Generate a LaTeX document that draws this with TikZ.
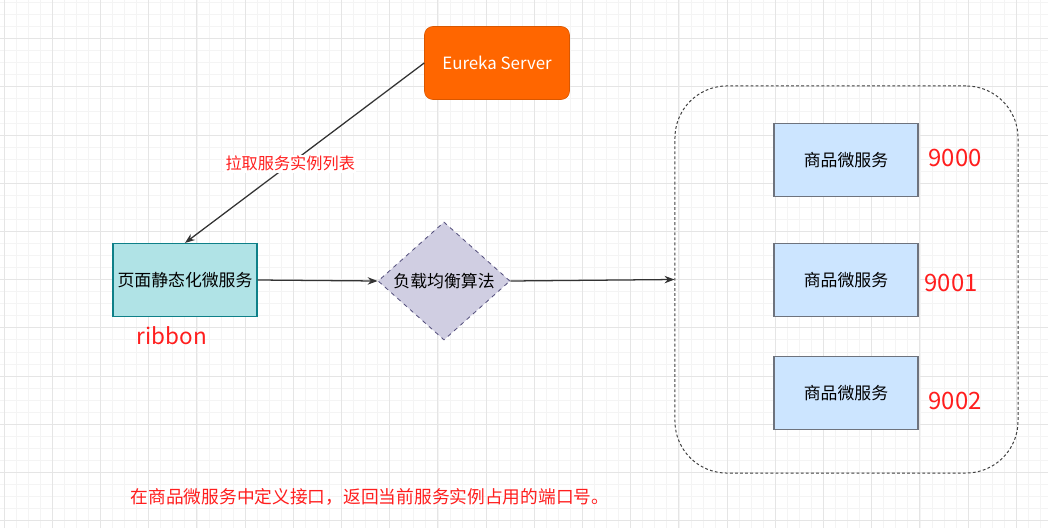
\documentclass[tikz,border=0pt]{standalone}
\usepackage{fontspec}
\setmainfont{Noto Sans CJK SC}
\usetikzlibrary{positioning, arrows.meta, shapes.geometric}
\usepackage{xcolor}
\definecolor{eurekaFill}{RGB}{255, 102, 0}
\definecolor{staticFill}{RGB}{176, 227, 230}
\definecolor{staticLine}{RGB}{14, 128, 136}
\definecolor{lbFill}{RGB}{208, 206, 226}
\definecolor{lbLine}{RGB}{86, 81, 126}
\definecolor{goodsFill}{RGB}{204, 229, 255}
\definecolor{goodsLine}{RGB}{110, 115, 125}
\definecolor{noteRed}{RGB}{255, 30, 30}

\begin{document}
\begin{tikzpicture}[>=Stealth, x=0.025cm, y=-0.025cm, font=\fontsize{12}{14}\selectfont,
    svcbox/.style={draw, line width=0.8pt, minimum width=3.6cm, minimum height=1.825cm, inner sep=2pt},
    portlbl/.style={text=noteRed, font=\fontsize{17}{20}\selectfont},
    link/.style={->, line width=0.9pt, black!80}]
  \useasboundingbox (0,0) rectangle (1048,528);
  \fill[white] (0,0) rectangle (1048,528);

  % background grid
  \foreach \k in {-1,...,87}
    \draw[gray!9, line width=0.4pt] ({4+12.05*\k},0) -- ({4+12.05*\k},528);
  \foreach \k in {-4,...,41}
    \draw[gray!9, line width=0.4pt] (0,{38.5+12.05*\k}) -- (1048,{38.5+12.05*\k});
  \foreach \k in {0,...,21}
    \draw[gray!20, line width=0.5pt] ({4+48.2*\k},0) -- ({4+48.2*\k},528);
  \foreach \k in {-1,...,10}
    \draw[gray!20, line width=0.5pt] (0,{38.5+48.2*\k}) -- (1048,{38.5+48.2*\k});

  % registry and caller
  \node[fill=eurekaFill, draw=eurekaFill!85!black, rounded corners=6pt, text=white,
        minimum width=3.625cm, minimum height=1.825cm] (eureka) at (497, 63) {Eureka Server};
  \node[svcbox, fill=staticFill, draw=staticLine] (static) at (185, 280) {页面静态化微服务};
  \node[text=noteRed, font=\fontsize{16}{19}\selectfont] (ribbon) at (172, 336) {ribbon};

  % load balancer
  \node[diamond, fill=lbFill, draw=lbLine, dashed, line width=0.6pt, inner sep=0pt,
        minimum width=3.3cm, minimum height=2.95cm] (lb) at (444, 281) {负载均衡算法};

  % cluster of goods services
  \node[draw=black!75, dash pattern=on 2pt off 1.6pt, line width=0.7pt, rounded corners=1.3cm,
        minimum width=8.575cm, minimum height=9.675cm] (cluster) at (846.5, 279.5) {};
  \node[svcbox, fill=goodsFill, draw=goodsLine] (goodsA) at (846, 160) {商品微服务};
  \node[svcbox, fill=goodsFill, draw=goodsLine] (goodsB) at (846, 280) {商品微服务};
  \node[svcbox, fill=goodsFill, draw=goodsLine] (goodsC) at (846, 393) {商品微服务};

  \node[portlbl] (portA) at (955, 158) {9000};
  \node[portlbl] (portB) at (951, 283) {9001};
  \node[portlbl] (portC) at (955, 401) {9002};

  % connectors
  \draw[link] (eureka.west) -- node[pos=0.56, fill=white, inner sep=1pt, text=noteRed,
        font=\fontsize{11.5}{13}\selectfont] (pullLbl) {拉取服务实例列表} (static.north);
  \draw[link] (static.east) -- (lb.west);
  \draw[link] (lb.east) -- (cluster.west);

  \node[text=noteRed, font=\fontsize{12.6}{15}\selectfont] (note) at (370, 497)
    {在商品微服务中定义接口，返回当前服务实例占用的端口号。};
\end{tikzpicture}
\end{document}
